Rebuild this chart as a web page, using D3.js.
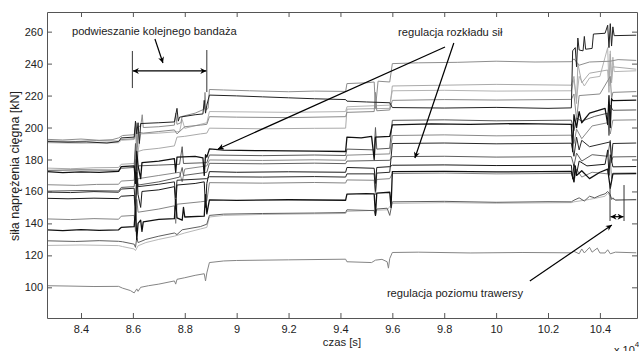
<!DOCTYPE html>
<html>
<head>
<meta charset="utf-8">
<script src="https://cdn.jsdelivr.net/npm/d3@7"></script>
<style>
  body { margin: 0; background: #fff; }
  text { font-family: "Liberation Sans", Arial, sans-serif; fill: #222; }
</style>
</head>
<body>
<svg id="chart" width="639" height="351"></svg>
<script>
// time in units of 10^4 s, force in kN
const xTicks = [8.4, 8.6, 8.8, 9, 9.2, 9.4, 9.6, 9.8, 10, 10.2, 10.4];
const yTicks = [100, 120, 140, 160, 180, 200, 220, 240, 260];

const s1 = [[8.27,192.6],[8.33,192.2],[8.40,192.8],[8.47,192.0],[8.52,192.4],[8.545,193.5],[8.56,195],[8.605,195.5],[8.612,203],[8.618,188],[8.622,201],[8.63,200.5],[8.636,208],[8.64,200],[8.70,200.5],[8.76,201.5],[8.765,209],[8.77,202],[8.785,203],[8.79,207],[8.84,209],[8.875,211.5],[8.878,222],[8.882,211],[8.89,212],[8.895,223.8],[8.95,223.5],[9.05,223],[9.2,222.4],[9.3,222.8],[9.42,222.6],[9.425,227.5],[9.5,228],[9.53,228.5],[9.535,212],[9.545,229],[9.59,228.5],[9.6,240],[9.7,240.5],[9.85,240.8],[10.0,241.5],[10.15,241],[10.29,241.2],[10.3,243],[10.32,239],[10.36,241],[10.44,241.5],[10.47,242.5],[10.54,242]];
const s2 = [[8.27,191.2],[8.35,190.8],[8.42,191.0],[8.50,190.3],[8.545,191.2],[8.555,193.5],[8.605,194],[8.61,204],[8.615,196],[8.62,203],[8.625,190],[8.63,202.5],[8.70,203],[8.76,203.5],[8.77,212],[8.775,204],[8.78,206.5],[8.84,208],[8.87,208.5],[8.875,217],[8.88,209],[8.885,214],[8.895,220.3],[9.0,219.8],[9.1,219.2],[9.2,218.6],[9.3,218],[9.42,217.5],[9.425,216.5],[9.5,216],[9.59,215.5],[9.6,212.5],[9.8,212.2],[10.0,212.6],[10.2,212],[10.29,212.3],[10.295,248],[10.305,250],[10.31,238],[10.315,256],[10.32,248.5],[10.335,248],[10.34,257],[10.345,249],[10.37,249.5],[10.375,258.5],[10.42,259],[10.43,264],[10.435,250],[10.44,265],[10.445,251],[10.45,263],[10.455,257.5],[10.54,257.8]];
const s3 = [[8.27,174.6],[8.36,174.2],[8.45,174.8],[8.545,175],[8.555,177],[8.605,177.5],[8.61,186],[8.615,170],[8.62,185],[8.64,186],[8.7,187],[8.76,188.5],[8.77,194],[8.8,194.5],[8.86,196],[8.885,196.5],[8.895,199.6],[9.1,199.2],[9.3,199.5],[9.42,199.6],[9.425,211.5],[9.59,212],[9.6,226],[9.8,226.5],[10.0,227],[10.29,226.5],[10.3,232],[10.31,215],[10.315,240],[10.33,228],[10.36,234],[10.43,236],[10.435,222],[10.44,246],[10.445,228],[10.45,238],[10.54,236.5]];
const s4 = [[8.27,172.4],[8.33,171.8],[8.40,172.3],[8.47,171.9],[8.545,172.6],[8.555,175.5],[8.605,176],[8.61,165],[8.615,185],[8.62,176],[8.63,168],[8.635,178],[8.70,179],[8.76,180.5],[8.765,172],[8.77,181.5],[8.84,182],[8.87,181],[8.875,170],[8.88,183],[8.885,181.5],[8.895,186.6],[8.95,185.8],[9.1,185.5],[9.3,185.2],[9.42,185],[9.425,194],[9.48,193.5],[9.52,194.5],[9.53,180],[9.535,194],[9.59,194.5],[9.6,201.6],[9.75,202.3],[9.9,202],[10.1,202.5],[10.29,202],[10.295,185],[10.3,208],[10.31,200],[10.32,210],[10.33,203],[10.36,209],[10.42,212],[10.43,202],[10.435,220],[10.44,200],[10.445,218],[10.45,216.8],[10.54,217.2]];
const s5 = [[8.27,173.2],[8.4,173.5],[8.545,173.3],[8.555,174.5],[8.605,175],[8.61,190],[8.615,170],[8.62,176],[8.70,176.5],[8.78,177],[8.79,188],[8.795,177.5],[8.885,178],[8.895,182.8],[9.1,182.4],[9.3,182.8],[9.42,182.5],[9.425,186.5],[9.53,186],[9.535,200],[9.54,186.5],[9.59,187],[9.6,204.5],[9.8,204.8],[10.0,204.2],[10.29,204.6],[10.3,198],[10.31,206],[10.33,204],[10.38,207],[10.43,209],[10.435,195],[10.44,214],[10.45,210.8],[10.54,211]];
const s6 = [[8.27,164.2],[8.38,163.8],[8.46,164.4],[8.545,164.5],[8.555,166.5],[8.605,167],[8.61,180],[8.615,158],[8.62,168],[8.70,170],[8.78,172],[8.79,166],[8.80,174],[8.885,176],[8.895,179.7],[9.1,179.4],[9.3,179.8],[9.42,179.5],[9.425,182.7],[9.59,183.5],[9.6,195],[9.8,195.4],[10.0,194.8],[10.29,195.2],[10.3,190],[10.31,199],[10.33,193],[10.37,201],[10.43,203],[10.44,196],[10.45,204.6],[10.54,204.8]];
const s7 = [[8.27,160.2],[8.4,160.6],[8.545,160.3],[8.555,162.5],[8.605,163],[8.61,172],[8.62,164],[8.70,166],[8.78,169],[8.79,175],[8.795,170],[8.885,172],[8.895,177.6],[9.1,177.3],[9.3,177.7],[9.42,177.4],[9.425,179],[9.59,179.5],[9.6,181.8],[9.8,182],[10.0,181.5],[10.29,181.8],[10.3,176],[10.31,184],[10.33,179],[10.37,183],[10.43,182],[10.44,192],[10.445,178],[10.45,181.6],[10.54,181.8]];
const s8 = [[8.27,155.7],[8.35,155.4],[8.45,155.8],[8.545,155.5],[8.555,157],[8.605,157.5],[8.61,145],[8.615,172],[8.62,158],[8.63,150],[8.635,160],[8.70,161],[8.76,163],[8.765,150],[8.77,164],[8.84,165],[8.875,166],[8.88,150],[8.885,165],[8.895,172.4],[9.0,172],[9.2,172.3],[9.42,172],[9.425,175],[9.53,174.5],[9.535,165],[9.54,175],[9.59,175.5],[9.6,176.4],[9.8,176.6],[10.0,176.2],[10.29,176.4],[10.295,168],[10.3,177],[10.31,171],[10.32,179],[10.35,176],[10.42,177],[10.43,186],[10.435,170],[10.44,183],[10.45,175.4],[10.54,175.6]];
const s9 = [[8.27,191.6],[8.38,191.3],[8.46,191.8],[8.545,191.5],[8.555,192.5],[8.605,193],[8.61,200],[8.615,184],[8.62,197],[8.64,196.5],[8.70,197.5],[8.76,198.5],[8.77,196],[8.80,200.5],[8.86,201.5],[8.885,202],[8.895,206.8],[9.0,206.5],[9.2,206.2],[9.42,206.8],[9.425,209.5],[9.53,210],[9.535,222],[9.54,210.5],[9.59,211],[9.6,217],[9.8,217.5],[10.0,217.2],[10.29,217.6],[10.3,221],[10.31,205],[10.32,220],[10.4,221],[10.44,232],[10.445,218],[10.45,222],[10.54,222.5]];
const s10 = [[8.27,142.8],[8.36,142.4],[8.45,143],[8.545,142.6],[8.555,144.5],[8.605,145],[8.61,135],[8.615,155],[8.62,147],[8.70,149],[8.76,151],[8.765,140],[8.77,152],[8.86,153.5],[8.885,154],[8.895,165.5],[9.1,165.2],[9.3,165.6],[9.42,165.3],[9.425,167.2],[9.53,167],[9.535,158],[9.54,167.5],[9.59,168],[9.6,171.2],[9.8,171.5],[10.0,171],[10.29,171.3],[10.3,166],[10.31,174],[10.33,169],[10.37,172],[10.43,171],[10.44,180],[10.445,168],[10.45,171.4],[10.54,171.6]];
const s11 = [[8.27,135.9],[8.33,135.5],[8.40,136.1],[8.47,135.7],[8.545,136],[8.555,137.5],[8.605,138],[8.61,150],[8.615,130],[8.62,140],[8.63,142],[8.635,135],[8.64,141],[8.70,142.5],[8.76,143],[8.765,155],[8.77,143.5],[8.79,142],[8.795,150],[8.80,144],[8.875,144.5],[8.88,158],[8.885,146],[8.895,154.7],[9.0,154.4],[9.2,154.8],[9.42,154.5],[9.425,158.3],[9.5,158.6],[9.53,158.5],[9.535,145],[9.54,159],[9.59,159.5],[9.595,150],[9.6,172.4],[9.8,172.6],[10.0,172.2],[10.29,172.5],[10.3,166],[10.305,176],[10.31,170],[10.33,173],[10.36,168],[10.4,172],[10.43,174],[10.44,162],[10.45,171],[10.54,171.2]];
const s12 = [[8.27,129.1],[8.38,128.7],[8.47,129.2],[8.545,128.8],[8.56,128.5],[8.605,127],[8.61,125],[8.615,131],[8.62,128],[8.65,130],[8.70,132],[8.76,134],[8.77,133],[8.79,136],[8.86,138],[8.885,139.5],[8.895,145],[8.95,145.8],[9.1,146.2],[9.3,146.5],[9.42,146.8],[9.425,148.5],[9.53,148],[9.535,145],[9.54,149],[9.58,149.5],[9.59,145],[9.6,153.5],[9.8,153.8],[10.0,153.2],[10.2,153.6],[10.29,153.5],[10.3,154.5],[10.32,156],[10.34,154],[10.36,157],[10.38,156],[10.4,157.5],[10.42,158.5],[10.43,160],[10.44,158],[10.445,155],[10.45,156],[10.46,154.5],[10.54,155]];
const s13 = [[8.27,126.2],[8.4,126.5],[8.545,126.1],[8.56,125.5],[8.605,124],[8.61,123],[8.62,126],[8.65,128],[8.70,130],[8.76,132],[8.80,134],[8.86,136.5],[8.885,137.5],[8.895,144],[8.95,145],[9.1,145.6],[9.3,146],[9.42,146.2],[9.425,147.5],[9.58,148.5],[9.6,152.5],[9.8,153],[10.0,152.6],[10.29,153],[10.3,153.5],[10.36,155],[10.42,157],[10.43,159],[10.45,155],[10.54,154.5]];
const s14 = [[8.27,101],[8.35,100.8],[8.45,100.5],[8.545,100.6],[8.56,99.5],[8.59,98],[8.605,96.5],[8.615,99],[8.62,97.5],[8.63,100],[8.66,101],[8.70,102],[8.76,104],[8.765,102],[8.77,105],[8.8,106],[8.84,107.5],[8.875,108.5],[8.88,104],[8.885,109],[8.895,115.5],[8.95,116.5],[9.0,116.8],[9.2,117.2],[9.42,117.6],[9.425,116],[9.52,115.5],[9.535,117],[9.56,117.5],[9.58,116],[9.585,112],[9.59,118],[9.6,121.8],[9.7,122],[9.9,121.5],[10.1,121.8],[10.29,121.6],[10.3,122.5],[10.32,121],[10.33,124],[10.34,121.5],[10.36,125],[10.37,122],[10.39,124.5],[10.4,121.5],[10.42,121.5],[10.43,123.5],[10.44,121],[10.46,122],[10.54,121.6]];
const s15 = [[8.27,190.5],[8.4,190.2],[8.545,190.5],[8.555,192],[8.605,192.5],[8.61,198],[8.62,185],[8.63,196],[8.70,196.5],[8.78,197.5],[8.79,205],[8.80,199.5],[8.885,203],[8.895,210],[9.2,209.5],[9.42,210],[9.425,213],[9.59,214],[9.6,223],[9.8,223.3],[10.0,222.8],[10.29,223],[10.3,230],[10.31,218],[10.32,232],[10.34,226],[10.36,231],[10.40,232],[10.43,250],[10.435,226],[10.44,248],[10.445,230],[10.45,244],[10.455,235],[10.54,235.5]];
const s16 = [[8.27,159.6],[8.36,159.3],[8.45,159.9],[8.545,159.5],[8.555,161.5],[8.605,162],[8.61,150],[8.615,170],[8.62,163],[8.70,164.5],[8.76,166],[8.765,156],[8.77,167],[8.885,168],[8.895,169.2],[9.1,169],[9.3,169.3],[9.42,169],[9.425,171],[9.53,171],[9.535,160],[9.54,171.5],[9.59,172],[9.6,190],[9.8,190.3],[10.0,189.8],[10.29,190.2],[10.3,182],[10.31,194],[10.32,186],[10.33,192],[10.36,188],[10.44,191],[10.445,180],[10.45,190],[10.54,190.3]];

// drawing order: light first, black on top
const series = [
  { data: s13, color: '#b8b8b8', w: 1 },
  { data: s15, color: '#b4b4b4', w: 1 },
  { data: s3,  color: '#aaaaaa', w: 1 },
  { data: s14, color: '#858585', w: 1 },
  { data: s1,  color: '#8e8e8e', w: 1 },
  { data: s9,  color: '#8a8a8a', w: 1 },
  { data: s6,  color: '#8a8a8a', w: 1 },
  { data: s10, color: '#858585', w: 1 },
  { data: s5,  color: '#5a5a5a', w: 1 },
  { data: s7,  color: '#606060', w: 1 },
  { data: s12, color: '#5e5e5e', w: 1 },
  { data: s2,  color: '#222222', w: 1 },
  { data: s16, color: '#2a2a2a', w: 1 },
  { data: s8,  color: '#1a1a1a', w: 1 },
  { data: s11, color: '#111111', w: 1.3 },
  { data: s4,  color: '#111111', w: 1.3 }
];

const width = 639, height = 351;
const margin = { top: 12, right: 2, bottom: 33, left: 47 };

const svg = d3.select('#chart');
const x = d3.scaleLinear().domain([8.269, 10.543]).range([margin.left, width - margin.right]);
const y = d3.scaleLinear().domain([80.8, 272.3]).range([height - margin.bottom, margin.top]);

svg.append('defs').append('clipPath').attr('id', 'clip')
  .append('rect')
  .attr('x', margin.left).attr('y', margin.top)
  .attr('width', width - margin.left - margin.right)
  .attr('height', height - margin.top - margin.bottom);

const line = d3.line().x(d => x(d[0])).y(d => y(d[1]));

svg.append('g').attr('clip-path', 'url(#clip)')
  .selectAll('path')
  .data(series)
  .enter()
  .append('path')
  .attr('d', d => line(d.data))
  .attr('fill', 'none')
  .attr('stroke', d => d.color)
  .attr('stroke-width', d => d.w)
  .attr('stroke-linejoin', 'round');

// axes box with inward ticks on all sides
const tickLen = 5;
const axisColor = '#555';
const styleAxis = g => {
  g.select('.domain').attr('stroke', axisColor);
  g.selectAll('.tick line').attr('stroke', axisColor);
  g.selectAll('text').style('font-size', '11px').attr('fill', '#222');
};

svg.append('g')
  .attr('transform', `translate(0,${height - margin.bottom})`)
  .call(d3.axisBottom(x).tickValues(xTicks).tickSizeInner(-tickLen).tickSizeOuter(0).tickPadding(7).tickFormat(d3.format('')))
  .call(styleAxis);
svg.append('g')
  .attr('transform', `translate(0,${margin.top})`)
  .call(d3.axisTop(x).tickValues(xTicks).tickSizeInner(-tickLen).tickSizeOuter(0).tickFormat(''))
  .call(styleAxis);
svg.append('g')
  .attr('transform', `translate(${margin.left},0)`)
  .call(d3.axisLeft(y).tickValues(yTicks).tickSizeInner(-tickLen).tickSizeOuter(0).tickPadding(4))
  .call(styleAxis);
svg.append('g')
  .attr('transform', `translate(${width - margin.right},0)`)
  .call(d3.axisRight(y).tickValues(yTicks).tickSizeInner(-tickLen).tickSizeOuter(0).tickFormat(''))
  .call(styleAxis);

// axis labels
svg.append('text')
  .attr('x', (x(8.269) + x(10.543)) / 2).attr('y', 346)
  .attr('text-anchor', 'middle').style('font-size', '11.3px')
  .text('czas [s]');
svg.append('text')
  .attr('transform', `translate(19,${(margin.top + height - margin.bottom) / 2 + 1}) rotate(-90)`)
  .attr('text-anchor', 'middle').style('font-size', '12.5px')
  .text('siła naprężenia cięgna [kN]');
const expo = svg.append('text').attr('x', 614).attr('y', 354).style('font-size', '11px');
expo.append('tspan').text('x 10');
expo.append('tspan').attr('dy', -7).style('font-size', '8px').text('4');

// annotations (data coordinates)
const defs = svg.select('defs');
defs.append('marker')
  .attr('id', 'head').attr('viewBox', '0 0 10 10')
  .attr('refX', 10).attr('refY', 5)
  .attr('markerWidth', 8).attr('markerHeight', 6)
  .attr('markerUnits', 'userSpaceOnUse')
  .attr('orient', 'auto-start-reverse')
  .append('path').attr('d', 'M0,0 L10,5 L0,10 L3,5 Z').attr('fill', '#000');

const ann = svg.append('g');
const arrow = (t0, v0, t1, v1, both) => {
  const l = ann.append('line')
    .attr('x1', x(t0)).attr('y1', y(v0)).attr('x2', x(t1)).attr('y2', y(v1))
    .attr('stroke', '#000').attr('stroke-width', 1.2)
    .attr('marker-end', 'url(#head)');
  if (both) l.attr('marker-start', 'url(#head)');
};
const vline = (t, v0, v1) => ann.append('line')
  .attr('x1', x(t)).attr('x2', x(t)).attr('y1', y(v0)).attr('y2', y(v1))
  .attr('stroke', '#333').attr('stroke-width', 1);
const label = (t, v, s) => ann.append('text')
  .attr('x', x(t)).attr('y', y(v)).style('font-size', '11.2px').text(s);

label(8.365, 257.9, 'podwieszanie kolejnego bandaża');
arrow(8.685, 255.4, 8.716, 240.4);
vline(8.598, 247.9, 224.7);
vline(8.885, 248.5, 222.2);
arrow(8.600, 235.4, 8.883, 235.4, true);

label(9.622, 257.3, 'regulacja rozkładu sił');
arrow(9.803, 250.4, 8.928, 186.6);
arrow(9.837, 252.9, 9.687, 180.9);

label(9.579, 93.9, 'regulacja poziomu trawersy');
arrow(10.130, 103.9, 10.446, 139.0);
vline(10.439, 164, 141.5);
vline(10.493, 164, 141.5);
arrow(10.441, 144.2, 10.491, 144.2, true);
</script>
</body>
</html>
